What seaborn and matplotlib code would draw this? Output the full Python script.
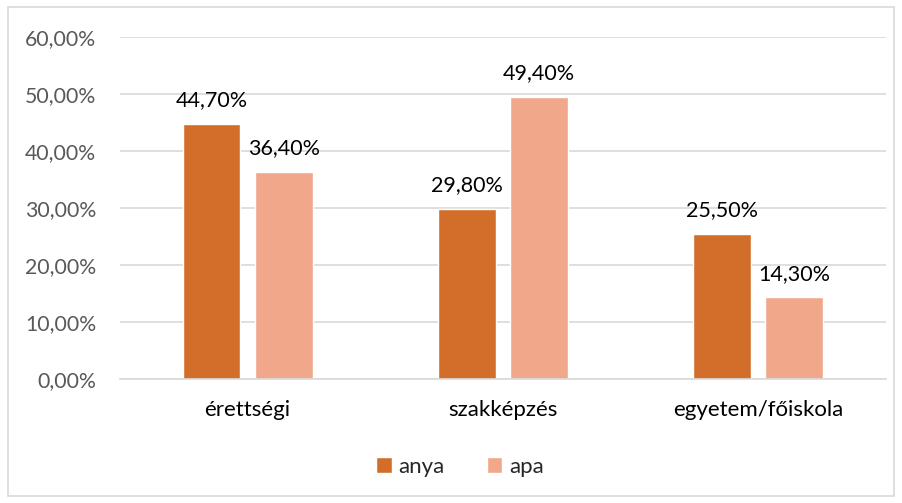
import pandas as pd
import seaborn as sns
import matplotlib.pyplot as plt
from matplotlib.patches import Rectangle

categories = ['érettségi', 'szakképzés', 'egyetem/főiskola']
anya = [44.70, 29.80, 25.50]
apa = [36.40, 49.40, 14.30]
series = ['anya', 'apa']
colors = ['#D26E2A', '#F1A78A']

data = pd.DataFrame({
    'kategoria': categories * 2,
    'ertek': anya + apa,
    'szulo': ['anya'] * 3 + ['apa'] * 3,
})

sns.set_style('white')
plt.rcParams['font.family'] = ['Lato', 'DejaVu Sans']

fig = plt.figure(figsize=(9.02, 5.03), dpi=100)
ax = fig.add_axes([0.133, 0.2465, 0.849, 0.68])

sns.barplot(data=data, x='kategoria', y='ertek', hue='szulo', order=categories,
            hue_order=series, palette=colors, width=0.565, gap=0.2,
            saturation=1, ax=ax, legend=True)

def pct(v):
    return f'{v:.2f}%'.replace('.', ',')

for cont in ax.containers:
    ax.bar_label(cont, labels=[pct(b.get_height()) for b in cont],
                 padding=10, fontsize=15.5, color='#000000')

ax.set_ylim(0, 60)
ax.set_yticks(range(0, 61, 10))
ax.set_yticklabels([pct(t) for t in range(0, 61, 10)], fontsize=15.3, color='#595959')
ax.tick_params(axis='x', labelsize=16, labelcolor='#000000', pad=15, length=0)
ax.tick_params(axis='y', length=0, pad=17)
ax.grid(axis='y', color='#D9D9D9', linewidth=1.2)
ax.set_axisbelow(True)
for s in ['top', 'right', 'left']:
    ax.spines[s].set_visible(False)
ax.spines['bottom'].set_color('#D9D9D9')
ax.spines['bottom'].set_linewidth(1.2)
ax.set_xlabel('')
ax.set_ylabel('')

ax.legend(loc='center', bbox_to_anchor=(0.51, 0.072), bbox_transform=fig.transFigure,
          ncol=2, frameon=False, fontsize=16, handlelength=0.7, handleheight=0.7,
          handletextpad=0.3, columnspacing=1.9)

fig.patches.append(Rectangle((0.009, 0.014), 0.982, 0.972, transform=fig.transFigure,
                             fill=False, edgecolor='#D9D9D9', linewidth=1.2))

fig.savefig('out.png', dpi=100)
